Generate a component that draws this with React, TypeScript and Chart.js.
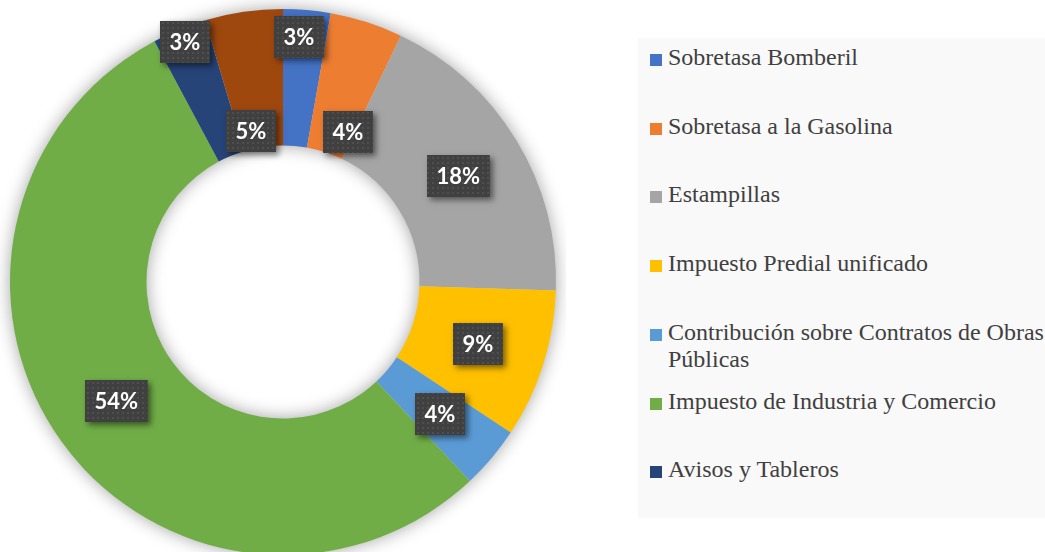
import React, { useEffect, useRef } from "react";
import { Chart, registerables } from "chart.js";

Chart.register(...registerables);

// ---- data ----
const categories: string[] = [
  "Sobretasa Bomberil",
  "Sobretasa a la Gasolina",
  "Estampillas",
  "Impuesto Predial unificado",
  "Contribución sobre Contratos de Obras Públicas",
  "Impuesto de Industria y Comercio",
  "Avisos y Tableros",
  "Otros",
];
const shares: number[] = [2.8, 4.3, 18.4, 8.8, 3.7, 54.2, 3.2, 4.6];
const colors: string[] = [
  "#4472C4",
  "#ED7D31",
  "#A5A5A5",
  "#FFC000",
  "#5B9BD5",
  "#70AD47",
  "#264478",
  "#9E480E",
];

// ---- label placement (layout only) ----
// radial position within the ring (0 = inner edge, 1 = outer edge)
const labelRadial: number[] = [0.8, 0.2, 0.5, 0.5, 0.5, 0.5, 0.9, 0.13];
// angular nudge in degrees from the slice middle
const labelAngleShift: number[] = [-1.3, 5.6, 0, 0, 0, 0, 0, -3.7];

let dotPattern: CanvasPattern | null = null;
function getPattern(ctx: CanvasRenderingContext2D) {
  if (dotPattern) return dotPattern;
  const c = document.createElement("canvas");
  c.width = 5;
  c.height = 5;
  const p = c.getContext("2d")!;
  p.fillStyle = "#404040";
  p.fillRect(0, 0, 5, 5);
  p.fillStyle = "#4f4f4f";
  p.fillRect(2, 2, 2, 2);
  dotPattern = ctx.createPattern(c, "repeat");
  return dotPattern;
}

const ringShadow = {
  id: "ringShadow",
  beforeDatasetsDraw(chart: any) {
    const meta = chart.getDatasetMeta(0);
    const arc = meta.data[0];
    if (!arc) return;
    const { x, y, outerRadius, innerRadius } = arc.getProps(
      ["x", "y", "outerRadius", "innerRadius"],
      true
    );
    const ctx = chart.ctx as CanvasRenderingContext2D;
    ctx.save();
    ctx.shadowColor = "rgba(0,0,0,0.4)";
    ctx.shadowBlur = 18;
    ctx.fillStyle = "#d0d0d0";
    ctx.beginPath();
    ctx.arc(x, y, outerRadius - 1, 0, Math.PI * 2);
    ctx.arc(x, y, innerRadius + 1, 0, Math.PI * 2, true);
    ctx.fill();
    ctx.restore();
  },
};

const boxLabels = {
  id: "boxLabels",
  afterDatasetsDraw(chart: any) {
    const ctx = chart.ctx as CanvasRenderingContext2D;
    const meta = chart.getDatasetMeta(0);
    const values: number[] = chart.data.datasets[0].data;
    const total = values.reduce((a, b) => a + b, 0);
    ctx.save();
    ctx.font = "bold 22px Lato";
    meta.data.forEach((arc: any, i: number) => {
      const { x, y, startAngle, endAngle, outerRadius, innerRadius } = arc.getProps(
        ["x", "y", "startAngle", "endAngle", "outerRadius", "innerRadius"],
        true
      );
      const a = (startAngle + endAngle) / 2 + (labelAngleShift[i] * Math.PI) / 180;
      const r = innerRadius + (outerRadius - innerRadius) * labelRadial[i];
      const cx = x + Math.cos(a) * r;
      const cy = y + Math.sin(a) * r;
      const text = Math.round((values[i] / total) * 100) + "%";
      const w = ctx.measureText(text).width + 19;
      const h = 42;
      const bx = Math.round(cx - w / 2);
      const by = Math.round(cy - h / 2);
      ctx.save();
      ctx.shadowColor = "rgba(0,0,0,0.5)";
      ctx.shadowBlur = 6;
      ctx.shadowOffsetX = 3;
      ctx.shadowOffsetY = 3;
      ctx.fillStyle = "#404040";
      ctx.fillRect(bx, by, w, h);
      ctx.restore();
      ctx.fillStyle = getPattern(ctx) || "#404040";
      ctx.fillRect(bx, by, w, h);
      ctx.fillStyle = "#ffffff";
      ctx.textAlign = "center";
      ctx.textBaseline = "middle";
      ctx.fillText(text, bx + w / 2, by + h / 2 + 1);
    });
    ctx.restore();
  },
};

export default function App() {
  const canvasRef = useRef<HTMLCanvasElement | null>(null);

  useEffect(() => {
    if (!canvasRef.current) return;
    const chart = new Chart(canvasRef.current, {
      type: "doughnut",
      data: {
        labels: categories,
        datasets: [
          {
            data: shares,
            backgroundColor: colors,
            borderWidth: 0,
            hoverOffset: 0,
            clip: false as any,
          },
        ],
      },
      options: {
        responsive: false,
        animation: false,
        radius: 273,
        cutout: 135,
        layout: { padding: { top: 12, bottom: 0, left: 0, right: 0 } },
        plugins: {
          legend: { display: false },
          tooltip: { enabled: false },
        },
      } as any,
      plugins: [ringShadow, boxLabels],
    });
    return () => chart.destroy();
  }, []);

  const itemH = 68.7;

  return (
    <div
      style={{
        position: "absolute",
        left: 0,
        top: 0,
        width: 1045,
        height: 552,
        background: "#ffffff",
        overflow: "hidden",
      }}
    >
      <canvas
        ref={canvasRef}
        width={566}
        height={552}
        style={{ position: "absolute", left: 0, top: 0, width: 566, height: 552 }}
      />
      <div
        style={{
          position: "absolute",
          left: 638,
          top: 38,
          width: 407,
          height: 480,
          background: "#f9f9f9",
          overflow: "hidden",
        }}
      >
        {categories.map((c, i) => (
          <div
            key={c}
            style={{
              position: "absolute",
              left: 0,
              top: i * itemH,
              width: 420,
              height: itemH,
            }}
          >
            <div
              style={{
                position: "absolute",
                left: 12,
                top: 16,
                width: 12,
                height: 12,
                background: colors[i],
              }}
            />
            <div
              style={{
                position: "absolute",
                left: 30,
                top: 6,
                width: 400,
                fontFamily: "'Liberation Serif', 'Times New Roman', serif",
                fontSize: 24,
                lineHeight: "27px",
                color: "#404040",
                whiteSpace: "normal",
              }}
            >
              {c}
            </div>
          </div>
        ))}
      </div>
    </div>
  );
}
